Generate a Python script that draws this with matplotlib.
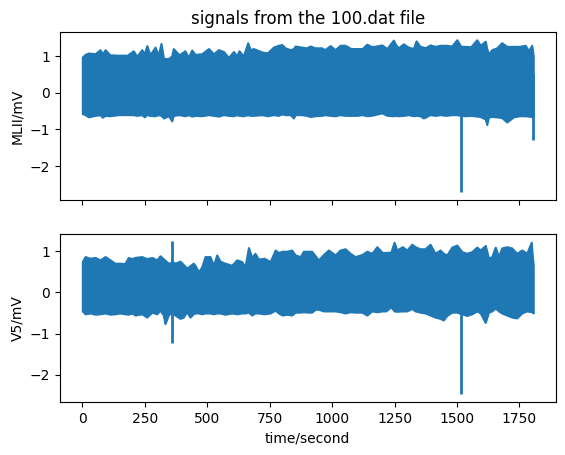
import numpy as np
import matplotlib
matplotlib.use('Agg')
import matplotlib.pyplot as plt

# envelope of the MLII lead (upper / lower edge of the dense trace)
t_mlii = [0, 11, 24, 51, 71, 80, 91, 110, 144, 180, 204, 218, 238, 248, 258, 271, 291, 304,
          315, 325, 345, 358, 364, 387, 411, 424, 438, 451, 478, 505, 525, 545, 565, 585, 605,
          618, 627, 645, 662, 672, 685, 718, 740, 765, 785, 798, 812, 832, 845, 852, 878, 898,
          912, 932, 958, 970, 992, 1012, 1032, 1052, 1075, 1099, 1120, 1139, 1155, 1169,
          1199, 1219, 1245, 1255, 1265, 1285, 1305, 1325, 1336, 1352, 1365, 1372, 1392, 1412,
          1432, 1455, 1479, 1499, 1515, 1532, 1555, 1579, 1593, 1613, 1619, 1626, 1639, 1659,
          1679, 1699, 1726, 1750, 1773, 1786, 1799, 1805]
hi_mlii = [0.97, 1.04, 1.08, 1.06, 1.17, 1.05, 1.17, 1.03, 1.02, 1.02, 1.14, 0.99, 1.17, 1.05,
           1.28, 1.03, 1.24, 1.02, 1.34, 0.93, 0.93, 1.0, 1.2, 1.03, 1.14, 0.96, 1.16, 1.04,
           1.06, 1.2, 1.06, 1.17, 1.12, 0.96, 1.12, 1.0, 1.14, 1.0, 1.36, 1.17, 1.2, 1.11, 1.08,
           1.24, 1.29, 1.31, 1.22, 1.17, 1.2, 1.27, 1.24, 1.22, 1.27, 1.22, 1.22, 1.17, 1.28,
           1.17, 1.29, 1.29, 1.2, 1.2, 1.2, 1.32, 1.26, 1.26, 1.3, 1.2, 1.43, 1.3, 1.22, 1.33,
           1.24, 1.2, 1.41, 1.26, 1.24, 1.22, 1.3, 1.26, 1.29, 1.29, 1.27, 1.44, 1.26, 1.26,
           1.25, 1.44, 1.29, 1.4, 1.2, 1.05, 1.17, 1.22, 1.36, 1.26, 1.26, 1.26, 1.29, 1.14,
           1.29, 1.0]
lo_mlii = [-0.57, -0.6, -0.66, -0.62, -0.6, -0.67, -0.62, -0.63, -0.6, -0.6, -0.6, -0.62,
           -0.6, -0.66, -0.6, -0.62, -0.63, -0.6, -0.62, -0.69, -0.63, -0.77, -0.62, -0.6,
           -0.63, -0.6, -0.64, -0.62, -0.63, -0.6, -0.62, -0.64, -0.6, -0.62, -0.63, -0.6,
           -0.62, -0.63, -0.6, -0.62, -0.62, -0.6, -0.63, -0.6, -0.62, -0.58, -0.6, -0.6,
           -0.69, -0.6, -0.6, -0.62, -0.65, -0.63, -0.62, -0.6, -0.62, -0.63, -0.6, -0.62,
           -0.62, -0.62, -0.6, -0.63, -0.62, -0.6, -0.55, -0.62, -0.63, -0.62, -0.63, -0.62,
           -0.6, -0.63, -0.62, -0.63, -0.69, -0.67, -0.6, -0.62, -0.6, -0.62, -0.6, -0.6,
           -0.62, -0.63, -0.62, -0.64, -0.65, -0.72, -0.87, -0.66, -0.65, -0.66, -0.68, -0.8,
           -0.66, -0.63, -0.63, -0.64, -0.65, -0.62]
# narrow beats that stick far out of the band
spike_t_mlii = [1516, 1805]
spike_lo_mlii = [-2.72, -1.28]
spike_hi_mlii = [0.5, 0.5]

# envelope of the V5 lead
t_v5 = [0, 11, 31, 51, 71, 91, 111, 130, 151, 170, 184, 198, 211, 238, 258, 278, 298, 311,
        324, 331, 344, 352, 360, 371, 391, 404, 418, 431, 444, 451, 465, 478, 491, 511, 525,
        538, 551, 571, 598, 618, 638, 651, 665, 678, 691, 705, 728, 752, 772, 785, 800, 818,
        838, 852, 872, 885, 905, 918, 932, 945, 965, 985, 1012, 1032, 1052, 1072, 1092, 1119,
        1139, 1159, 1179, 1200, 1215, 1235, 1248, 1259, 1281, 1299, 1319, 1332, 1352, 1372,
        1392, 1412, 1432, 1445, 1459, 1479, 1499, 1519, 1539, 1559, 1579, 1593, 1613, 1626,
        1639, 1653, 1666, 1679, 1699, 1719, 1739, 1759, 1779, 1797, 1802, 1805]
hi_v5 = [0.75, 0.87, 0.83, 0.85, 0.79, 0.87, 0.79, 0.71, 0.71, 0.7, 0.85, 0.82, 0.85, 0.87,
         0.82, 0.85, 0.79, 0.89, 0.82, 0.78, 0.71, 0.72, 0.75, 0.71, 0.76, 0.68, 0.59, 0.65,
         0.71, 0.66, 0.5, 0.62, 0.87, 0.87, 0.66, 0.91, 0.76, 0.71, 0.66, 0.79, 0.75, 0.62,
         1.09, 0.85, 0.95, 0.81, 0.83, 0.75, 1.03, 0.97, 1.0, 1.0, 1.03, 0.91, 0.87, 1.0, 1.0,
         1.0, 0.89, 0.79, 0.92, 1.03, 0.91, 1.03, 1.06, 0.95, 0.87, 0.92, 1.0, 0.95, 1.11,
         0.97, 0.97, 0.98, 1.22, 1.03, 1.11, 1.03, 1.17, 1.11, 1.06, 1.06, 1.17, 0.95, 1.03,
         0.95, 0.91, 1.1, 1.15, 0.99, 0.95, 0.99, 1.1, 1.03, 1.14, 0.83, 0.87, 1.1, 0.87, 1.08,
         1.11, 1.08, 0.95, 1.03, 0.95, 1.22, 0.83, 0.67]
lo_v5 = [-0.45, -0.52, -0.5, -0.53, -0.52, -0.5, -0.53, -0.52, -0.5, -0.52, -0.53, -0.5,
         -0.55, -0.52, -0.6, -0.48, -0.52, -0.43, -0.55, -0.76, -0.55, -0.5, -0.5, -0.55,
         -0.63, -0.6, -0.47, -0.6, -0.52, -0.5, -0.5, -0.52, -0.5, -0.5, -0.52, -0.5, -0.5,
         -0.53, -0.5, -0.52, -0.5, -0.5, -0.48, -0.55, -0.5, -0.5, -0.52, -0.5, -0.43, -0.5,
         -0.55, -0.53, -0.55, -0.48, -0.48, -0.47, -0.48, -0.48, -0.41, -0.41, -0.45, -0.45,
         -0.45, -0.47, -0.5, -0.47, -0.48, -0.48, -0.55, -0.45, -0.47, -0.45, -0.45, -0.35,
         -0.45, -0.46, -0.45, -0.45, -0.39, -0.45, -0.48, -0.5, -0.55, -0.6, -0.63, -0.67,
         -0.56, -0.48, -0.48, -0.52, -0.56, -0.52, -0.45, -0.5, -0.73, -0.48, -0.45, -0.38,
         -0.45, -0.5, -0.55, -0.6, -0.62, -0.5, -0.45, -0.47, -0.48, -0.5]
spike_t_v5 = [360, 1516]
spike_lo_v5 = [-1.22, -2.47]
spike_hi_v5 = [1.24, 0.5]

fig, (ax1, ax2) = plt.subplots(2, 1, sharex=True)

ax1.fill_between(t_mlii, lo_mlii, hi_mlii, color='#1f77b4', lw=1.5)
ax1.vlines(spike_t_mlii, spike_lo_mlii, spike_hi_mlii, color='#1f77b4', lw=2)
ax1.set_title('signals from the 100.dat file')
ax1.set_ylabel('MLII/mV')

ax2.fill_between(t_v5, lo_v5, hi_v5, color='#1f77b4', lw=1.5)
ax2.vlines(spike_t_v5, spike_lo_v5, spike_hi_v5, color='#1f77b4', lw=2)
ax2.set_ylabel('V5/mV')
ax2.set_xlabel('time/second')

fig.savefig('out.png', bbox_inches='tight')
